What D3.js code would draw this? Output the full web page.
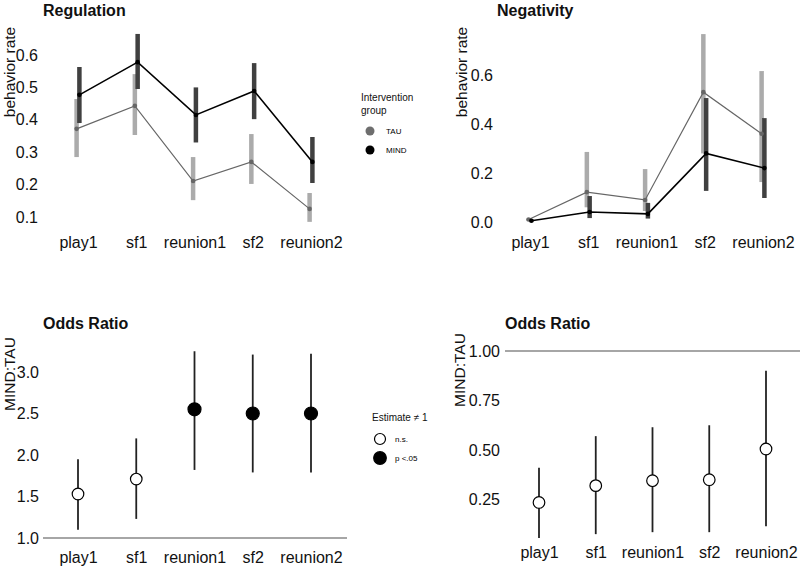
<!DOCTYPE html>
<html>
<head>
<meta charset="utf-8">
<script src="https://cdn.jsdelivr.net/npm/d3@7"></script>
<style>
  body { margin: 0; background: #fff; }
  svg { font-family: "Liberation Sans", Arial, sans-serif; }
  svg text { fill: #111; }
</style>
</head>
<body>
<svg id="chart" width="800" height="568"></svg>
<script>
"use strict";

// phases on the x axis
const phases = ["play1", "sf1", "reunion1", "sf2", "reunion2"];

// Regulation behaviour rate
const regTau = [0.372, 0.443, 0.211, 0.270, 0.125];
const regTauLo = [0.285, 0.353, 0.152, 0.202, 0.085];
const regTauHi = [0.464, 0.541, 0.285, 0.356, 0.174];
const regMind = [0.477, 0.578, 0.415, 0.489, 0.270];
const regMindLo = [0.390, 0.495, 0.330, 0.402, 0.205];
const regMindHi = [0.563, 0.665, 0.500, 0.575, 0.347];

// Negativity behaviour rate
const negTau = [0.010, 0.122, 0.090, 0.530, 0.360];
const negTauLo = [0.005, 0.060, 0.045, 0.280, 0.163];
const negTauHi = [0.015, 0.286, 0.216, 0.767, 0.616];
const negMind = [0.005, 0.041, 0.033, 0.280, 0.220];
const negMindLo = [0.002, 0.016, 0.014, 0.127, 0.098];
const negMindHi = [0.010, 0.106, 0.078, 0.506, 0.424];

// odds ratios MIND:TAU
const orRegEst = [1.53, 1.71, 2.55, 2.50, 2.50];
const orRegLo = [1.10, 1.23, 1.82, 1.79, 1.79];
const orRegHi = [1.95, 2.20, 3.25, 3.21, 3.22];
const orRegSig = [false, false, true, true, true];

const orNegEst = [0.235, 0.320, 0.345, 0.350, 0.505];
const orNegLo = [0.055, 0.075, 0.085, 0.085, 0.115];
const orNegHi = [0.410, 0.570, 0.615, 0.625, 0.900];
const orNegSig = [false, false, false, false, false];

const svg = d3.select("#chart");

function ratePanel(opt) {
    const x = d3.scalePoint().domain(phases).range(opt.xr);
    const y = d3.scaleLinear().domain(opt.yd).range(opt.yr);
    const g = svg.append("g");

    g.append("text").attr("x", opt.titleX).attr("y", 16)
        .attr("font-size", 16).attr("font-weight", "bold").text(opt.title);

    g.append("text")
        .attr("transform", `translate(${opt.labX},72) rotate(-90)`)
        .attr("text-anchor", "middle").attr("font-size", 15.5)
        .text("behavior rate");

    const ya = g.append("g").attr("transform", `translate(${opt.axX},0)`)
        .call(d3.axisLeft(y).tickValues(opt.ticks).tickSize(0).tickPadding(0)
            .tickFormat(d3.format(".1f")));
    ya.select(".domain").remove();
    ya.selectAll("text").attr("font-size", 16).style("fill", "#111");

    const xa = g.append("g").attr("transform", "translate(0,237)")
        .call(d3.axisBottom(x).tickSize(0).tickPadding(0));
    xa.select(".domain").remove();
    xa.selectAll("text").attr("font-size", 16).style("fill", "#111");

    const groups = [
        { est: opt.tau, lo: opt.tauLo, hi: opt.tauHi, dx: -1.4, bar: "#ababab", line: "#666", dot: "#666", lw: 1.2 },
        { est: opt.mind, lo: opt.mindLo, hi: opt.mindHi, dx: 1.4, bar: "#404040", line: "#000", dot: "#000", lw: 1.6 }
    ];

    groups.forEach((s) => {
        g.selectAll(null).data(phases).enter().append("line")
            .attr("x1", (d) => x(d) + s.dx).attr("x2", (d) => x(d) + s.dx)
            .attr("y1", (d, i) => y(s.lo[i])).attr("y2", (d, i) => y(s.hi[i]))
            .attr("stroke", s.bar).attr("stroke-width", 4.5);
    });
    groups.forEach((s) => {
        const line = d3.line().x((d) => x(d) + s.dx).y((d, i) => y(s.est[i]));
        g.append("path").attr("d", line(phases)).attr("fill", "none")
            .attr("stroke", s.line).attr("stroke-width", s.lw);
        g.selectAll(null).data(phases).enter().append("circle")
            .attr("cx", (d) => x(d) + s.dx).attr("cy", (d, i) => y(s.est[i]))
            .attr("r", 2.3).attr("fill", s.dot);
    });
}

function oddsPanel(opt) {
    const x = d3.scalePoint().domain(phases).range(opt.xr);
    const y = d3.scaleLinear().domain(opt.yd).range(opt.yr);
    const g = svg.append("g");

    g.append("text").attr("x", opt.titleX).attr("y", 329)
        .attr("font-size", 16).attr("font-weight", "bold").text("Odds Ratio");

    g.append("text")
        .attr("transform", `translate(${opt.labX},${opt.labY}) rotate(-90)`)
        .attr("text-anchor", "middle").attr("font-size", 15.5)
        .text("MIND:TAU");

    g.append("line").attr("x1", opt.refX[0]).attr("x2", opt.refX[1])
        .attr("y1", y(1)).attr("y2", y(1))
        .attr("stroke", "#888").attr("stroke-width", 1.5);

    const ya = g.append("g").attr("transform", `translate(${opt.axX},0)`)
        .call(d3.axisLeft(y).tickValues(opt.ticks).tickSize(0).tickPadding(0)
            .tickFormat(d3.format(opt.fmt)));
    ya.select(".domain").remove();
    ya.selectAll("text").attr("font-size", 16).style("fill", "#111");

    const xa = g.append("g").attr("transform", `translate(0,${opt.xaY})`)
        .call(d3.axisBottom(x).tickSize(0).tickPadding(0));
    xa.select(".domain").remove();
    xa.selectAll("text").attr("font-size", 16).style("fill", "#111");

    g.selectAll(null).data(phases).enter().append("line")
        .attr("x1", (d) => x(d)).attr("x2", (d) => x(d))
        .attr("y1", (d, i) => y(opt.lo[i])).attr("y2", (d, i) => y(opt.hi[i]))
        .attr("stroke", "#222").attr("stroke-width", 1.8);

    g.selectAll(null).data(phases).enter().append("circle")
        .attr("cx", (d) => x(d)).attr("cy", (d, i) => y(opt.est[i]))
        .attr("r", (d, i) => opt.sig[i] ? 6.5 : 5.8)
        .attr("fill", (d, i) => opt.sig[i] ? "#000" : "#fff")
        .attr("stroke", "#000").attr("stroke-width", 1.2);
}

ratePanel({
    title: "Regulation", titleX: 43, labX: 15, axX: 38,
    xr: [78, 311], yd: [0.1, 0.6], yr: [217, 55],
    ticks: [0.1, 0.2, 0.3, 0.4, 0.5, 0.6],
    tau: regTau, tauLo: regTauLo, tauHi: regTauHi,
    mind: regMind, mindLo: regMindLo, mindHi: regMindHi
});

ratePanel({
    title: "Negativity", titleX: 497, labX: 467, axX: 493,
    xr: [530, 763], yd: [0, 0.6], yr: [222, 75],
    ticks: [0, 0.2, 0.4, 0.6],
    tau: negTau, tauLo: negTauLo, tauHi: negTauHi,
    mind: negMind, mindLo: negMindLo, mindHi: negMindHi
});

oddsPanel({
    titleX: 43, labX: 15, labY: 374, axX: 39, xaY: 552,
    xr: [78, 311], yd: [1, 3], yr: [538, 372],
    ticks: [1, 1.5, 2, 2.5, 3], fmt: ".1f", refX: [43, 347],
    est: orRegEst, lo: orRegLo, hi: orRegHi, sig: orRegSig
});

oddsPanel({
    titleX: 505, labX: 465, labY: 370, axX: 500, xaY: 547,
    xr: [539, 766], yd: [0, 1], yr: [549, 351],
    ticks: [0.25, 0.5, 0.75, 1], fmt: ".2f", refX: [505, 800],
    est: orNegEst, lo: orNegLo, hi: orNegHi, sig: orNegSig
});

// legend: intervention group
const leg1 = svg.append("g");
leg1.append("text").attr("x", 361).attr("y", 101).attr("font-size", 10).text("Intervention");
leg1.append("text").attr("x", 361).attr("y", 114).attr("font-size", 10).text("group");
const groupNames = ["TAU", "MIND"];
const groupColors = ["#6e6e6e", "#000"];
leg1.selectAll(null).data(groupNames).enter().append("circle")
    .attr("cx", 370).attr("cy", (d, i) => 131 + i * 19).attr("r", 4.5)
    .attr("fill", (d, i) => groupColors[i]);
leg1.selectAll(null).data(groupNames).enter().append("text")
    .attr("x", 386).attr("y", (d, i) => 134 + i * 19).attr("font-size", 8)
    .style("fill", "#000").text((d) => d);

// legend: estimate != 1
const leg2 = svg.append("g");
leg2.append("text").attr("x", 372).attr("y", 421).attr("font-size", 10).text("Estimate \u2260 1");
const sigNames = ["n.s.", "p <.05"];
leg2.selectAll(null).data(sigNames).enter().append("circle")
    .attr("cx", 380).attr("cy", (d, i) => 439 + i * 19).attr("r", (d, i) => i ? 6.3 : 5.5)
    .attr("fill", (d, i) => i ? "#000" : "#fff").attr("stroke", "#000").attr("stroke-width", 1.2);
leg2.selectAll(null).data(sigNames).enter().append("text")
    .attr("x", 395).attr("y", (d, i) => 442 + i * 19).attr("font-size", 8)
    .style("fill", "#000").text((d) => d);
</script>
</body>
</html>
